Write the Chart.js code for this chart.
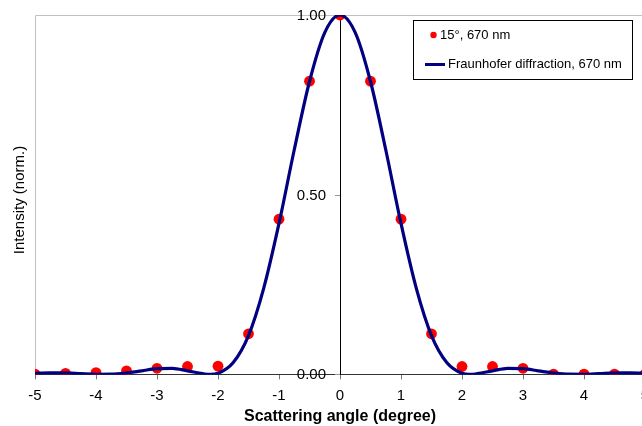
<!DOCTYPE html>
<html><head><meta charset="utf-8">
<script src="https://cdn.jsdelivr.net/npm/chart.js@4"></script>
<style>html,body{margin:0;padding:0;background:#fff;overflow:hidden;} #wrap{width:660px;height:426px;}</style>
</head><body><div id="wrap"><canvas id="c" width="660" height="426"></canvas></div>
<script>
// Measured points (red dots)
const measuredAngles = [-5, -4.5, -4, -3.5, -3, -2.5, -2, -1.5, -1, -0.5, 0, 0.5, 1, 1.5, 2, 2.5, 3, 3.5, 4, 4.5, 5];
const measuredIntensity = [0.001, 0.003, 0.005, 0.010, 0.017, 0.022, 0.023, 0.113, 0.432, 0.816, 1.000, 0.816, 0.432, 0.113, 0.022, 0.022, 0.017, 0.001, 0.001, 0.001, 0.001];
// Fraunhofer diffraction curve
const theoryAngles = [-5, -4.75, -4.5, -4.25, -4, -3.75, -3.5, -3.25, -3, -2.75, -2.5, -2.25, -2.13, -2, -1.75, -1.5, -1.25, -1, -0.75, -0.5, -0.25, 0,
                      0.25, 0.5, 0.75, 1, 1.25, 1.5, 1.75, 2, 2.13, 2.25, 2.5, 2.75, 3, 3.25, 3.5, 3.75, 4, 4.25, 4.5, 4.75, 5];
const theoryIntensity = [0.003, 0.004, 0.004, 0.002, 0.0003, 0.0005, 0.004, 0.010, 0.016, 0.017, 0.010, 0.002, 0.0, 0.003, 0.033, 0.108, 0.240, 0.420, 0.625, 0.815, 0.951, 1.000,
                         0.951, 0.815, 0.625, 0.420, 0.240, 0.108, 0.033, 0.003, 0.0, 0.002, 0.010, 0.017, 0.016, 0.010, 0.004, 0.0005, 0.0003, 0.002, 0.004, 0.004, 0.003];
const xTickRange = [-5, 5];
const yTickRange = [0, 1];
const seriesLabels = ['15°, 670 nm', 'Fraunhofer diffraction, 670 nm'];
const xTitle = 'Scattering angle (degree)';
const yTitle = 'Intensity (norm.)';

const FONT = '"Liberation Sans", Arial, Helvetica, sans-serif';

const framePlugin = {
  id: 'frame',
  beforeDatasetsDraw(chart) {
    const {ctx, chartArea: a} = chart;
    ctx.save();
    ctx.strokeStyle = '#c0c0c0';
    ctx.lineWidth = 1;
    const t = Math.round(a.top) + 0.5, l = Math.round(a.left) + 0.5;
    ctx.beginPath();
    ctx.moveTo(l, Math.round(a.bottom));
    ctx.lineTo(l, t);
    ctx.lineTo(a.right, t);
    ctx.stroke();
    // y-axis tick marks and labels, to the left of the centred axis
    const ys = chart.scales.y, xs = chart.scales.x;
    const x0 = Math.round(xs.getPixelForValue(0));
    ctx.strokeStyle = '#999';
    ctx.font = '15px ' + FONT;
    ctx.fillStyle = '#000';
    ctx.textAlign = 'right';
    ctx.textBaseline = 'middle';
    ys.ticks.forEach(tk => {
      const py = Math.round(ys.getPixelForValue(tk.value)) + 0.5;
      ctx.beginPath();
      ctx.moveTo(x0 - 5, py);
      ctx.lineTo(x0, py);
      ctx.stroke();
      ctx.fillText(tk.value.toFixed(2), x0 - 14, py);
    });
    ctx.restore();
  }
};

const titleLegendPlugin = {
  id: 'titleLegend',
  afterDraw(chart) {
    const ctx = chart.ctx;
    const ds = chart.data.datasets;
    ctx.save();
    ctx.translate(20, 200);
    ctx.rotate(-Math.PI / 2);
    ctx.font = '15px ' + FONT;
    ctx.fillStyle = '#000';
    ctx.textAlign = 'center';
    ctx.textBaseline = 'middle';
    ctx.fillText(yTitle, 0, 0);
    ctx.restore();

    ctx.save();
    const bx = 413.5, by = 20.5, bw = 219, bh = 59;
    ctx.fillStyle = '#fff';
    ctx.fillRect(bx, by, bw, bh);
    ctx.strokeStyle = '#000';
    ctx.lineWidth = 1;
    ctx.strokeRect(bx, by, bw, bh);
    ctx.font = '13px ' + FONT;
    ctx.textBaseline = 'middle';
    ctx.textAlign = 'left';
    ctx.beginPath();
    ctx.arc(433.5, 35, 3.2, 0, Math.PI * 2);
    ctx.fillStyle = ds[0].backgroundColor;
    ctx.fill();
    ctx.fillStyle = '#000';
    ctx.fillText(ds[0].label, 440, 35);
    ctx.beginPath();
    ctx.moveTo(425, 64.5);
    ctx.lineTo(445, 64.5);
    ctx.strokeStyle = ds[1].borderColor;
    ctx.lineWidth = 3;
    ctx.stroke();
    ctx.fillStyle = '#000';
    ctx.fillText(ds[1].label, 448, 64);
    ctx.restore();
  }
};

new Chart(document.getElementById('c'), {
  type: 'scatter',
  data: {
    datasets: [
      {
        label: seriesLabels[0],
        data: measuredAngles.map((x, i) => ({x, y: measuredIntensity[i]})),
        backgroundColor: '#ff0000',
        borderWidth: 0,
        pointRadius: 5.4,
        pointHoverRadius: 5.4,
        xAxisID: 'x', yAxisID: 'y',
        order: 1
      },
      {
        label: seriesLabels[1],
        data: theoryAngles.map((x, i) => ({x, y: theoryIntensity[i]})),
        showLine: true,
        borderColor: '#000080',
        backgroundColor: '#000080',
        borderWidth: 3.2,
        pointRadius: 0,
        cubicInterpolationMode: 'monotone',
        xAxisID: 'x', yAxisID: 'y',
        order: 0
      }
    ]
  },
  options: {
    responsive: false,
    animation: false,
    events: [],
    layout: { padding: { left: 35, top: 15, right: 15, bottom: 1 } },
    plugins: { legend: { display: false }, tooltip: { enabled: false } },
    scales: {
      x: {
        type: 'linear',
        position: 'bottom',
        min: xTickRange[0], max: xTickRange[1],
        ticks: { stepSize: 1, autoSkip: false, maxRotation: 0, color: '#000', font: { family: FONT, size: 15 }, padding: 7 },
        grid: { drawOnChartArea: false, drawTicks: true, tickLength: 5, color: '#777' },
        border: { display: true, color: '#333', width: 1 },
        title: { display: true, text: xTitle, color: '#000', font: { family: FONT, size: 16, weight: 'bold', lineHeight: 1.1 }, padding: { top: -4, bottom: 0 } }
      },
      y: {
        type: 'linear',
        position: { x: 0 },
        min: yTickRange[0], max: yTickRange[1],
        ticks: { stepSize: 0.5, display: false },
        grid: { display: false },
        border: { display: true, color: '#000', width: 1 }
      }
    }
  },
  plugins: [framePlugin, titleLegendPlugin]
});
</script>
</body></html>
